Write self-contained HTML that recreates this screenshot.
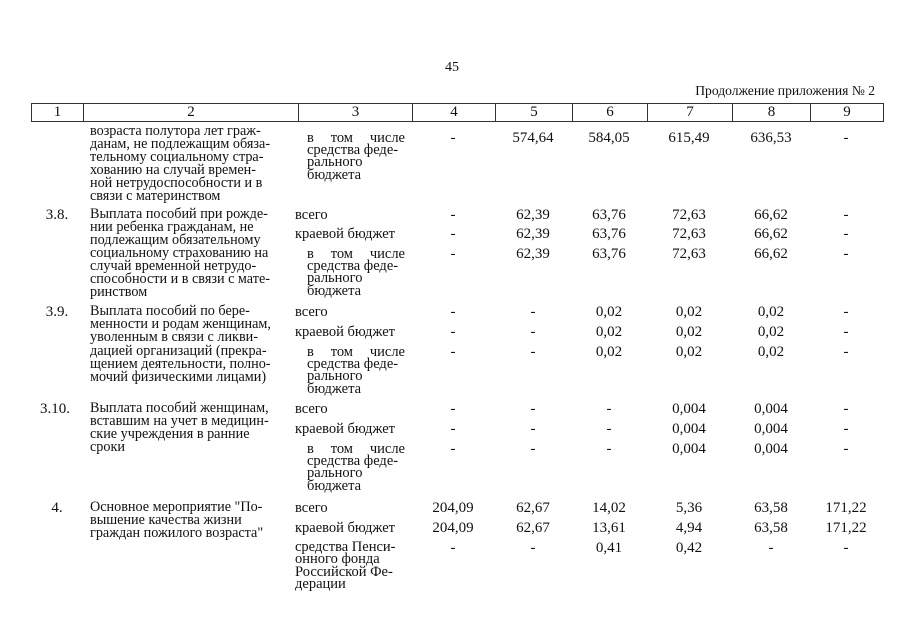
<!DOCTYPE html>
<html><head><meta charset="utf-8"><style>
body{margin:0;width:905px;height:640px;background:#fff;position:relative;overflow:hidden;font-family:"Liberation Serif",serif;font-size:15px;color:#111}
.l{position:absolute;white-space:nowrap;line-height:14px}
.c{position:absolute;white-space:nowrap;line-height:14px;transform:translateX(-50%)}
.j{position:absolute;width:98px;text-align:justify;text-align-last:justify;line-height:14px;white-space:normal}
.h{position:absolute;top:103px;height:19px;border:1px solid #333;border-right:none;box-sizing:border-box;text-align:center;line-height:17px}
.s{font-size:14.5px}
.t{font-size:14.2px}
</style></head><body>
<div class="c" style="left:452px;top:61px;font-size:14px">45</div>
<div class="l" style="right:30px;top:84px;font-size:13.6px">Продолжение приложения № 2</div>
<div class="h" style="left:31px;width:52px">1</div>
<div class="h" style="left:83px;width:215px">2</div>
<div class="h" style="left:298px;width:114px">3</div>
<div class="h" style="left:412px;width:83px">4</div>
<div class="h" style="left:495px;width:77px">5</div>
<div class="h" style="left:572px;width:75px">6</div>
<div class="h" style="left:647px;width:85px">7</div>
<div class="h" style="left:732px;width:78px">8</div>
<div class="h" style="left:810px;width:74px;border-right:1px solid #333">9</div>

<!-- Row A -->
<div class="l t" style="left:90px;top:125px;line-height:13px">возраста полутора лет граж-<br>данам, не подлежащим обяза-<br>тельному социальному стра-<br>хованию на случай времен-<br>ной нетрудоспособности и в<br>связи с материнством</div>
<div class="j s" style="left:307px;top:131px">в том числе</div>
<div class="l s" style="left:307px;top:144px;line-height:12.3px">средства феде-<br>рального<br>бюджета</div>
<div class="c" style="left:453px;top:131px">-</div><div class="c" style="left:533px;top:131px">574,64</div><div class="c" style="left:609px;top:131px">584,05</div><div class="c" style="left:689px;top:131px">615,49</div><div class="c" style="left:771px;top:131px">636,53</div><div class="c" style="left:846px;top:131px">-</div>

<!-- 3.8 -->
<div class="c" style="left:57px;top:208px">3.8.</div>
<div class="l t" style="left:90px;top:208px;line-height:13px">Выплата пособий при рожде-<br>нии ребенка гражданам, не<br>подлежащим обязательному<br>социальному страхованию на<br>случай временной нетрудо-<br>способности и в связи с мате-<br>ринством</div>
<div class="l s" style="left:295px;top:208px">всего</div>
<div class="l s" style="left:295px;top:227px">краевой бюджет</div>
<div class="j s" style="left:307px;top:247px">в том числе</div>
<div class="l s" style="left:307px;top:260px;line-height:12.3px">средства феде-<br>рального<br>бюджета</div>
<div class="c" style="left:453px;top:208px">-</div><div class="c" style="left:533px;top:208px">62,39</div><div class="c" style="left:609px;top:208px">63,76</div><div class="c" style="left:689px;top:208px">72,63</div><div class="c" style="left:771px;top:208px">66,62</div><div class="c" style="left:846px;top:208px">-</div>
<div class="c" style="left:453px;top:227px">-</div><div class="c" style="left:533px;top:227px">62,39</div><div class="c" style="left:609px;top:227px">63,76</div><div class="c" style="left:689px;top:227px">72,63</div><div class="c" style="left:771px;top:227px">66,62</div><div class="c" style="left:846px;top:227px">-</div>
<div class="c" style="left:453px;top:247px">-</div><div class="c" style="left:533px;top:247px">62,39</div><div class="c" style="left:609px;top:247px">63,76</div><div class="c" style="left:689px;top:247px">72,63</div><div class="c" style="left:771px;top:247px">66,62</div><div class="c" style="left:846px;top:247px">-</div>

<!-- 3.9 -->
<div class="c" style="left:57px;top:305px">3.9.</div>
<div class="l t" style="left:90px;top:305px;line-height:13.2px">Выплата пособий по бере-<br>менности и родам женщинам,<br>уволенным в связи с ликви-<br>дацией организаций (прекра-<br>щением деятельности, полно-<br>мочий физическими лицами)</div>
<div class="l s" style="left:295px;top:305px">всего</div>
<div class="l s" style="left:295px;top:325px">краевой бюджет</div>
<div class="j s" style="left:307px;top:345px">в том числе</div>
<div class="l s" style="left:307px;top:358px;line-height:12.3px">средства феде-<br>рального<br>бюджета</div>
<div class="c" style="left:453px;top:305px">-</div><div class="c" style="left:533px;top:305px">-</div><div class="c" style="left:609px;top:305px">0,02</div><div class="c" style="left:689px;top:305px">0,02</div><div class="c" style="left:771px;top:305px">0,02</div><div class="c" style="left:846px;top:305px">-</div>
<div class="c" style="left:453px;top:325px">-</div><div class="c" style="left:533px;top:325px">-</div><div class="c" style="left:609px;top:325px">0,02</div><div class="c" style="left:689px;top:325px">0,02</div><div class="c" style="left:771px;top:325px">0,02</div><div class="c" style="left:846px;top:325px">-</div>
<div class="c" style="left:453px;top:345px">-</div><div class="c" style="left:533px;top:345px">-</div><div class="c" style="left:609px;top:345px">0,02</div><div class="c" style="left:689px;top:345px">0,02</div><div class="c" style="left:771px;top:345px">0,02</div><div class="c" style="left:846px;top:345px">-</div>

<!-- 3.10 -->
<div class="c" style="left:55px;top:402px">3.10.</div>
<div class="l t" style="left:90px;top:402px;line-height:13px">Выплата пособий женщинам,<br>вставшим на учет в медицин-<br>ские учреждения в ранние<br>сроки</div>
<div class="l s" style="left:295px;top:402px">всего</div>
<div class="l s" style="left:295px;top:422px">краевой бюджет</div>
<div class="j s" style="left:307px;top:442px">в том числе</div>
<div class="l s" style="left:307px;top:455px;line-height:12.3px">средства феде-<br>рального<br>бюджета</div>
<div class="c" style="left:453px;top:402px">-</div><div class="c" style="left:533px;top:402px">-</div><div class="c" style="left:609px;top:402px">-</div><div class="c" style="left:689px;top:402px">0,004</div><div class="c" style="left:771px;top:402px">0,004</div><div class="c" style="left:846px;top:402px">-</div>
<div class="c" style="left:453px;top:422px">-</div><div class="c" style="left:533px;top:422px">-</div><div class="c" style="left:609px;top:422px">-</div><div class="c" style="left:689px;top:422px">0,004</div><div class="c" style="left:771px;top:422px">0,004</div><div class="c" style="left:846px;top:422px">-</div>
<div class="c" style="left:453px;top:442px">-</div><div class="c" style="left:533px;top:442px">-</div><div class="c" style="left:609px;top:442px">-</div><div class="c" style="left:689px;top:442px">0,004</div><div class="c" style="left:771px;top:442px">0,004</div><div class="c" style="left:846px;top:442px">-</div>

<!-- 4 -->
<div class="c" style="left:57px;top:501px">4.</div>
<div class="l t" style="left:90px;top:501px;line-height:13px">Основное мероприятие "По-<br>вышение качества жизни<br>граждан пожилого возраста"</div>
<div class="l s" style="left:295px;top:501px">всего</div>
<div class="l s" style="left:295px;top:521px">краевой бюджет</div>
<div class="l s" style="left:295px;top:541px;line-height:12.3px">средства Пенси-<br>онного фонда<br>Российской Фе-<br>дерации</div>
<div class="c" style="left:453px;top:501px">204,09</div><div class="c" style="left:533px;top:501px">62,67</div><div class="c" style="left:609px;top:501px">14,02</div><div class="c" style="left:689px;top:501px">5,36</div><div class="c" style="left:771px;top:501px">63,58</div><div class="c" style="left:846px;top:501px">171,22</div>
<div class="c" style="left:453px;top:521px">204,09</div><div class="c" style="left:533px;top:521px">62,67</div><div class="c" style="left:609px;top:521px">13,61</div><div class="c" style="left:689px;top:521px">4,94</div><div class="c" style="left:771px;top:521px">63,58</div><div class="c" style="left:846px;top:521px">171,22</div>
<div class="c" style="left:453px;top:541px">-</div><div class="c" style="left:533px;top:541px">-</div><div class="c" style="left:609px;top:541px">0,41</div><div class="c" style="left:689px;top:541px">0,42</div><div class="c" style="left:771px;top:541px">-</div><div class="c" style="left:846px;top:541px">-</div>
</body></html>
